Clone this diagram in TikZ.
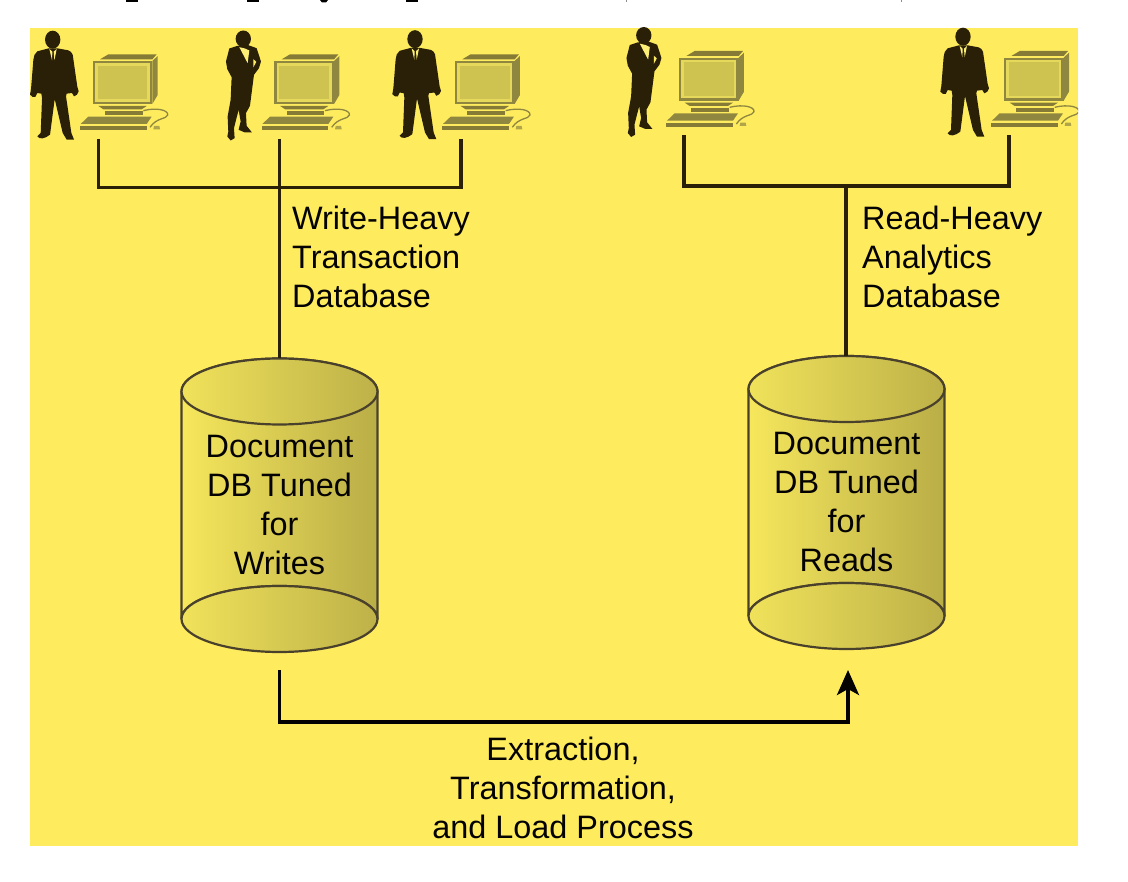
\documentclass[tikz,border=0pt]{standalone}
\usepackage{fontspec}
\setmainfont{Liberation Sans}
\usetikzlibrary{arrows.meta}
\definecolor{bgy}{HTML}{FEEC5E}
\definecolor{ink}{HTML}{2A2008}
\definecolor{oliv}{HTML}{8F8640}
\definecolor{olivd}{HTML}{857B36}
\definecolor{scr}{HTML}{CEC250}
\definecolor{frm}{HTML}{E6D85A}
\definecolor{cylL}{HTML}{F6E75C}
\definecolor{cylR}{HTML}{B9AD47}
\definecolor{capL}{HTML}{F0E25A}
\definecolor{capR}{HTML}{BDB149}
\tikzset{
  x=1pt,y=-1pt,
  wire/.style={line width=3.6pt,draw=ink,line cap=butt,line join=miter},
  flow/.style={line width=3.6pt,draw=black!90!ink,line join=miter},
  label/.style={font=\fontsize{32.4pt}{39pt}\selectfont,text=black!90!ink,inner sep=0pt,align=left,anchor=base west},
  dblabel/.style={font=\fontsize{32.4pt}{39pt}\selectfont,text=black!90!ink,inner sep=0pt,align=center,anchor=base},
  cylbody/.style={left color=cylL,right color=cylR,draw=ink!85,line width=2.2pt},
  cylcap/.style={left color=capL,right color=capR,draw=ink!85,line width=2.2pt},
  man/.pic={
    \begin{scope}[x=.3333pt,y=-.3333pt,shift={(-158,-118)}]
      \fill[ink] (158,120) ellipse [x radius=23,y radius=27];
      \fill[ink] (146,146) -- (112,155) .. controls (103,160) and (102,170) .. (100,180)
        -- (93,268) -- (90,285) .. controls (95,292) and (100,293) .. (106,292)
        -- (112,280) -- (124,282) -- (126,295) -- (122,400) -- (112,410)
        .. controls (118,420) and (134,418) .. (150,405) -- (164,298) -- (188,400)
        -- (200,420) -- (222,420) -- (214,400) -- (198,290) -- (200,282)
        -- (216,280) -- (222,290) .. controls (228,290) and (235,282) .. (236,275)
        -- (232,262) -- (218,165) .. controls (216,158) and (210,154) .. (205,152)
        -- (172,146) -- cycle;
      \fill[bgy!85!white] (148,148) -- (156,182) -- (157,156) -- cycle;
      \fill[bgy!85!white] (170,148) -- (163,182) -- (161,156) -- cycle;
    \end{scope}
  },
  woman/.pic={
    \begin{scope}[x=.3333pt,y=-.3333pt,shift={(-730,-116)}]
      \fill[ink] (730,117) ellipse [x radius=23,y radius=25];
      \fill[ink] (712,138) -- (688,146) -- (678,185) -- (682,208) -- (695,232)
        -- (692,300) -- (683,350) -- (685,395) -- (682,410) -- (692,422) -- (704,415)
        -- (702,385) -- (716,330) -- (722,365) -- (716,390) -- (735,398) -- (756,398)
        -- (740,378) -- (738,340) -- (750,318) -- (762,225) -- (777,205) -- (783,185)
        -- (770,145) -- (745,136) -- cycle;
      \fill[bgy!85!white] (718,142) -- (743,190) -- (748,152) -- (735,146) -- cycle;
      \fill[bgy] (760,178) -- (769,186) -- (760,203) -- cycle;
    \end{scope}
  },
  computer/.pic={
    \begin{scope}[x=.3333pt,y=-.3333pt,shift={(-278,-163)}]
      \fill[olivd] (300,178) -- (325,163) -- (470,163) -- (457,178) -- cycle;
      \fill[oliv] (457,183) -- (473,168) -- (473,285) -- (457,312) -- cycle;
      \fill[oliv] (278,183) rectangle (457,312);
      \fill[frm] (285,190) rectangle (450,305);
      \fill[scr] (293,197) rectangle (442,298);
      \fill[olivd] (295,318) -- (440,318) -- (425,328) -- (310,328) -- cycle;
      \fill[olivd] (315,334) rectangle (428,345);
      \fill[oliv] (265,350) -- (455,350) -- (440,372) -- (242,372) -- cycle;
      \fill[olivd] (240,378) rectangle (440,390);
      \draw[oliv,line width=1.3pt] (430,332) .. controls (470,322) and (505,330) .. (503,345)
        .. controls (500,358) and (470,352) .. (450,382);
      \fill[oliv!70!bgy] (462,378) -- (478,378) -- (480,388) -- (460,388) -- cycle;
    \end{scope}
  }
}
\begin{document}
\begin{tikzpicture}
\useasboundingbox (0,0) rectangle (1128,882);
\fill[white] (0,0) rectangle (1128,882);
% remnants of the clipped line above the figure
\fill[black] (126,0) rectangle (138,2);
\fill[black] (247,0) rectangle (259,2);
\fill[black] (320,0) -- (328,0) -- (326,2.5) -- (322,2.5) -- cycle;
\fill[black] (406,0) rectangle (418,2);
\fill[black!45] (625.5,0) rectangle (626.5,2);
\fill[black!45] (900.5,0) rectangle (901.5,2);
\fill[orange!70!black] (730,0) arc [start angle=180,end angle=360,x radius=7,y radius=3.5];
% panel
\fill[bgy] (30,28) rectangle (1078,846);
\begin{scope}
  \clip (30,28) rectangle (1078,846);
  \pic at (52.7,39) {man};
  \pic at (243.3,38.5) {woman};
  \pic at (415,38.5) {man};
  \pic at (643.8,35) {woman};
  \pic at (963,36) {man};
  \pic at (92.7,54.3) {computer};
  \pic at (274.4,54.3) {computer};
  \pic at (455,54.3) {computer};
  \pic at (679,51) {computer};
  \pic at (1004,51) {computer};
\end{scope}
% anchor points
\coordinate (u1) at (98.5,139);
\coordinate (u2) at (279.5,139);
\coordinate (u3) at (461,139);
\coordinate (u4) at (684,135);
\coordinate (u5) at (1009,135);
\coordinate (busL) at (279.5,187.5);
\coordinate (busR) at (846,186);
% left cylinder
\path[cylbody] (181.5,391.5) -- (181.5,619) arc [start angle=180,end angle=360,x radius=98,y radius=33]
  -- (377.5,391.5) arc [start angle=360,end angle=180,x radius=98,y radius=33] -- cycle;
\path[cylcap] (279.5,391.5) ellipse [x radius=98,y radius=33];
\path[cylcap] (279.5,619) ellipse [x radius=98,y radius=33];
\coordinate (dbwtop) at (279.5,358.5);
\coordinate (dbwout) at (279.5,670);
\node[dblabel] (dbw) at (279.5,574) {Document\\DB Tuned\\for\\Writes};
% right cylinder
\path[cylbody] (748.5,389) -- (748.5,616) arc [start angle=180,end angle=360,x radius=98,y radius=33]
  -- (944.5,389) arc [start angle=360,end angle=180,x radius=98,y radius=33] -- cycle;
\path[cylcap] (846.5,389) ellipse [x radius=98,y radius=33];
\path[cylcap] (846.5,616) ellipse [x radius=98,y radius=33];
\coordinate (dbrtop) at (846,356);
\coordinate (dbrin) at (848,670);
\node[dblabel] (dbr) at (846.5,571) {Document\\DB Tuned\\for\\Reads};
% connectors
\draw[wire] (u1) |- (u3 |- busL) -- (u3);
\draw[wire] (u2) -- (dbwtop);
\draw[wire] (u4) |- (u5 |- busR) -- (u5);
\draw[wire] (busR) -- (dbrtop);
\draw[flow,-{Stealth[length=25pt,width=22pt,inset=6pt]}] (dbwout) |- (563,722) -| (dbrin);
% labels
\node[label] (wl) at (292,308) {Write-Heavy\\Transaction\\Database};
\node[label] (rl) at (862,308) {Read-Heavy\\Analytics\\Database};
\node[dblabel] (etl) at (563,838) {Extraction,\\Transformation,\\and Load Process};
\end{tikzpicture}
\end{document}
